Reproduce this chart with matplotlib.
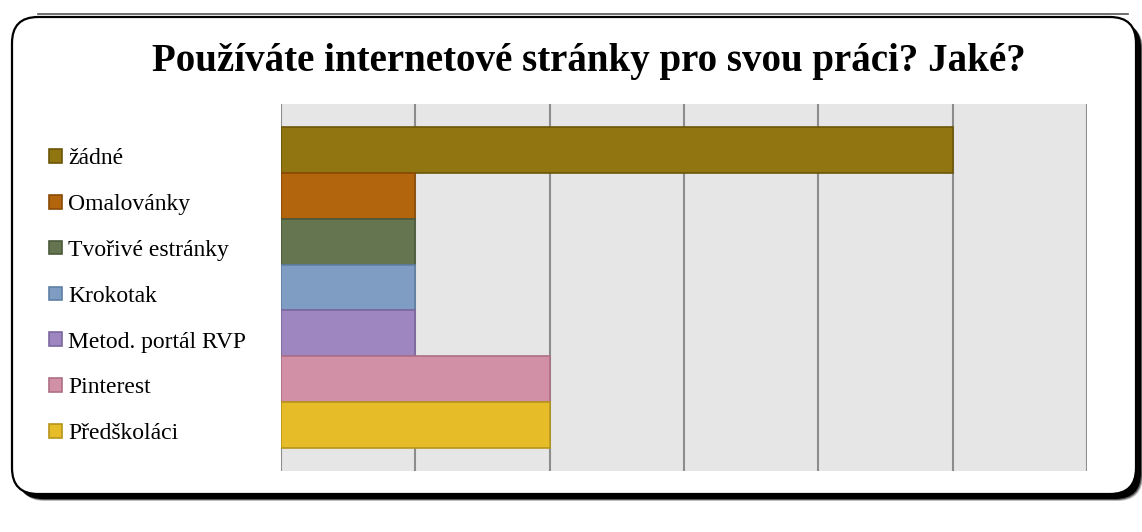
import matplotlib
matplotlib.use("Agg")
import matplotlib.pyplot as plt
from matplotlib.patches import FancyBboxPatch, Rectangle
from matplotlib.lines import Line2D
from matplotlib import transforms

W, H = 1142, 532
FONT = "Liberation Serif"

categories = ["žádné", "Omalovánky", "Tvořivé estránky", "Krokotak",
              "Metod. portál RVP", "Pinterest", "Předškoláci"]
values = [5, 1, 1, 1, 1, 2, 2]
colors = ["#917511", "#b3650e", "#647550", "#7f9dc3", "#9e86c0", "#d190a5", "#e6bc29"]
edges = ["#6b5608", "#8a4a05", "#4b5a3b", "#5f7fa5", "#7d67a0", "#ad7086", "#b8951a"]
title = "Používáte internetové stránky pro svou práci? Jaké?"

plt.rcParams["font.family"] = [FONT, "DejaVu Serif"]

fig = plt.figure(figsize=(W / 100, H / 100), dpi=100)
px = transforms.Affine2D().scale(1 / W, 1 / H) + fig.transFigure

# frame with shadow
for off, col in [(7, "#bbbbbb"), (6, "#555555"), (5, "#000000")]:
    fig.patches.append(FancyBboxPatch((12 + off, 38 - off), 1124, 477,
                                      boxstyle="round,pad=0,rounding_size=26",
                                      transform=px, facecolor=col, edgecolor="none", zorder=0))
fig.patches.append(FancyBboxPatch((12, 38), 1124, 477,
                                  boxstyle="round,pad=0,rounding_size=26",
                                  transform=px, facecolor="white", edgecolor="black",
                                  lw=1.6, zorder=1))
fig.lines.append(Line2D([38, 1128], [H - 14, H - 14], transform=px, color="#555555", lw=1.2))

fig.text(589 / W, (H - 61) / H, title, ha="center", va="center",
         fontsize=28, fontweight="bold", color="black")

ax = fig.add_axes([281 / W, (H - 471) / H, (1087 - 281) / W, (471 - 104) / H])
ax.set_zorder(2)
ax.set_facecolor("#e6e6e6")
ypos = list(range(len(categories)))
ax.barh(ypos, values, height=1.0, color=colors, edgecolor=edges, lw=1.2, zorder=3)
ax.set_xlim(0, 6)
ax.set_ylim(len(categories), -1.0)
ax.set_xticks(range(0, 7))
ax.grid(axis="x", color="#8c8c8c", lw=1.5, zorder=1)
ax.tick_params(left=False, bottom=False, labelleft=False, labelbottom=False)
for s in ax.spines.values():
    s.set_visible(False)

# legend
tr = transforms.blended_transform_factory(fig.transFigure, ax.transData)
for i, (lab, c, e) in enumerate(zip(categories, colors, edges)):
    y = ypos[i] + 0.13
    fig.patches.append(Rectangle((49 / W, y - 0.15), 13 / W, 0.30, transform=tr,
                                 facecolor=c, edgecolor=e, lw=1.2, zorder=3))
    fig.text(68 / W, y + 0.06, lab, transform=tr, ha="left", va="center",
             fontsize=17, color="black")

fig.savefig("out.png", dpi=100)
